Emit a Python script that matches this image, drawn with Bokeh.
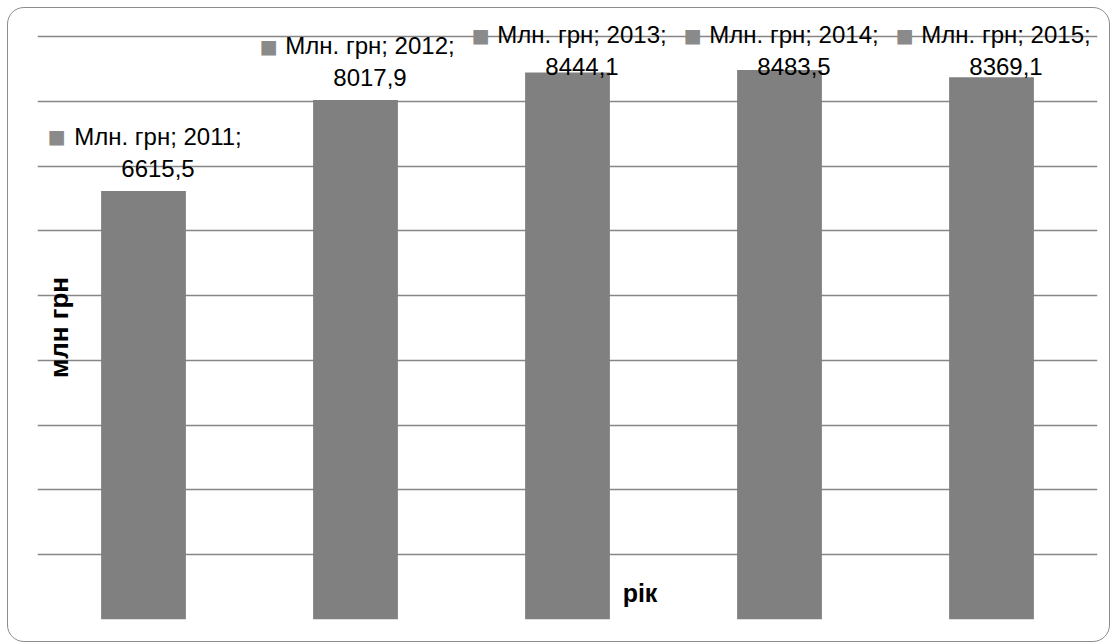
import numpy as np
from bokeh.plotting import figure
from bokeh.models import (FactorRange, Range1d, FixedTicker, ColumnDataSource,
                          Label, InlineStyleSheet)
from bokeh.core.properties import value
from bokeh.embed import file_html
from bokeh.resources import INLINE

# ---- data ----
years = ["2011", "2012", "2013", "2014", "2015"]
values = [6615.5, 8017.9, 8444.1, 8483.5, 8369.1]
value_texts = ["6615,5", "8017,9", "8444,1", "8483,5", "8369,1"]
series_name = "Млн. грн"
grid_ticks = [0, 1000, 2000, 3000, 4000, 5000, 6000, 7000, 8000, 9000]
y_title = "млн грн"
x_title = "рік"

# ---- geometry (pixels) ----
W, H = 1110, 643
FRAME_L, FRAME_R_BORDER, FRAME_B_BORDER = 37, 13, 24
FRAME_H = H - FRAME_B_BORDER          # frame spans canvas y 0..619
GRID_TOP_PX = 583                     # 9000 gridline height above baseline
CAT_PX = (W - FRAME_L - FRAME_R_BORDER) / len(years)
y_end = grid_ticks[-1] * FRAME_H / GRID_TOP_PX
px = GRID_TOP_PX / grid_ticks[-1]     # pixels per unit


def y_from_top(py):
    return (FRAME_H - py) / px


def x_from_left(pxl):
    return (pxl - FRAME_L) / CAT_PX


FONT = value("Liberation Sans")
BAR = "#808080"

css = InlineStyleSheet(css="""
:host { position: relative; }
:host::after {
  content: ''; position: absolute; left: 7px; top: 7px;
  width: 1103px; height: 635px; box-sizing: border-box;
  border: 1.5px solid #8c8c8c; border-radius: 17px; pointer-events: none;
}
""")

p = figure(width=W, height=H, x_range=FactorRange(*years, range_padding=0),
           y_range=Range1d(0, y_end), output_backend="svg", toolbar_location=None,
           x_axis_location=None, y_axis_location=None,
           min_border_left=FRAME_L, min_border_right=FRAME_R_BORDER,
           min_border_top=0, min_border_bottom=FRAME_B_BORDER)
p.stylesheets = [css]
p.outline_line_color = None
p.background_fill_color = "white"
p.border_fill_color = "white"
p.xgrid.visible = False
p.ygrid.ticker = FixedTicker(ticks=grid_ticks)
p.ygrid.grid_line_color = "#868686"
p.ygrid.grid_line_width = 1.4

src = ColumnDataSource(dict(
    x=years, top=values,
    lab=[f"{series_name}; {y};\n{t}" for y, t in zip(years, value_texts)],
    ly=np.minimum(values, y_from_top(88.5)),
    sq=["■"] * len(years),
))

p.vbar(x="x", top="top", width=0.4, source=src, fill_color=BAR, line_color=None)

p.text(x="x", y="ly", text="lab", source=src, x_offset=14.5, y_offset=-38.5,
       text_align="center", text_baseline="middle", text_font=FONT,
       text_font_size="24px", text_color="black", text_line_height=1.18)
p.text(x="x", y="ly", text="sq", source=src, x_offset=-87, y_offset=-54,
       text_align="center", text_baseline="middle", text_font=FONT,
       text_font_size="30px", text_color="#8a8a8a")

p.add_layout(Label(x=x_from_left(639.5), y=y_from_top(592), text=x_title,
                   text_font="Liberation Sans", text_font_style="bold",
                   text_font_size="25px", text_align="center",
                   text_baseline="alphabetic", text_color="black"))
p.add_layout(Label(x=x_from_left(58), y=y_from_top(327), text=y_title,
                   angle=np.pi / 2, text_font="Liberation Sans",
                   text_font_style="bold", text_font_size="26px",
                   text_align="center", text_baseline="alphabetic",
                   text_color="black"))

open("out.html", "w").write(file_html(p, INLINE))
